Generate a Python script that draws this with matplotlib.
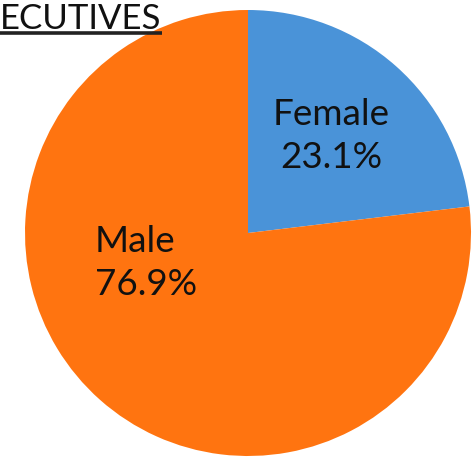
import matplotlib
matplotlib.use("Agg")
import matplotlib.pyplot as plt

# data
labels = ["Female", "Male"]
shares = [23.1, 76.9]
colors = ["#4a93d8", "#ff7410"]
title = "EXECUTIVES"

W, H = 474, 460
fig = plt.figure(figsize=(W / 100, H / 100), dpi=100)
ax = fig.add_axes([0, 0, 1, 1])

ax.pie(shares, colors=colors, startangle=90, counterclock=False,
       center=(248, H - 234), radius=223, frame=True,
       wedgeprops=dict(linewidth=0))
ax.set_xlim(0, W)
ax.set_ylim(0, H)
ax.set_aspect("equal")
ax.axis("off")

font = "Lato"
# slice labels
ax.text(331, H - 136, f"{labels[0]}\n{shares[0]:.1f}%", ha="center",
        va="center", fontsize=26.5, family=font, color="#111111",
        linespacing=1.38)
ax.text(95, H - 263, f"{labels[1]}\n{shares[1]:.1f}%", ha="left",
        va="center", fontsize=26.5, family=font, color="#111111",
        linespacing=1.38)

# cropped title, underlined
ax.text(0, H - 29, title[2:], ha="left", va="baseline", fontsize=25,
        family=font, color="#111111")
ax.plot([0, 162], [H - 34, H - 34], color="#222222", lw=2.6,
        solid_capstyle="butt")

fig.savefig("out.png", dpi=100)
